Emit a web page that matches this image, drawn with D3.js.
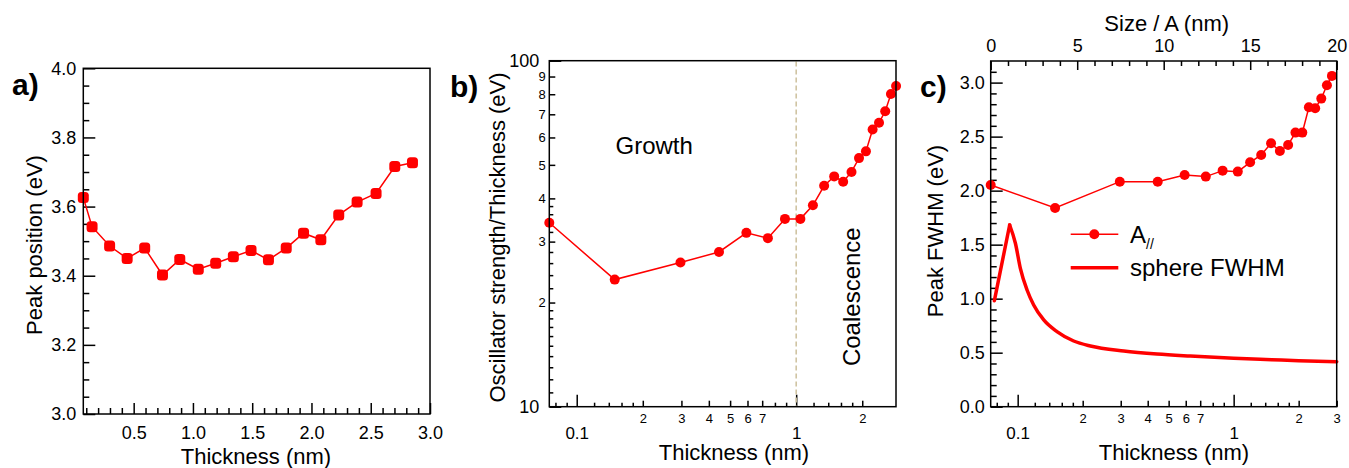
<!DOCTYPE html>
<html>
<head>
<meta charset="utf-8">
<script src="https://cdn.jsdelivr.net/npm/d3@7"></script>
<style>
  body { margin: 0; background: #fff; }
  svg text { font-family: "Liberation Sans", Arial, Helvetica, sans-serif; fill: #000; }
</style>
</head>
<body>
<script>
// ---- data ----
var thickness   = [0.075,0.149,0.297,0.445,0.593,0.743,0.889,1.045,1.192,1.341,1.49,1.637,1.787,1.933,2.079,2.23,2.385,2.545,2.703,2.852];
var peakPos     = [3.626,3.542,3.486,3.450,3.480,3.402,3.447,3.419,3.436,3.455,3.473,3.446,3.480,3.523,3.504,3.576,3.613,3.638,3.716,3.727];
var oscStrength = [34.0,23.3,26.1,28.0,31.8,30.7,34.9,34.9,38.2,43.5,46.3,44.7,47.7,52.3,54.7,63.3,66.2,71.4,80.1,84.5];
var fwhmA       = [2.052,1.840,2.083,2.083,2.145,2.130,2.185,2.176,2.262,2.330,2.438,2.367,2.423,2.537,2.537,2.772,2.762,2.852,2.975,3.062];
var sphereT     = [0.078,0.0918,0.0976,0.1029,0.1105,0.1186,0.132,0.152,0.1817,0.217,0.31,0.442,0.63,1.0,1.5,2.0,3.0];
var sphereW     = [0.981,1.682,1.513,1.281,1.080,0.942,0.803,0.695,0.608,0.562,0.516,0.488,0.469,0.448,0.435,0.426,0.417];

// tick values
var aXMajor = [0.5,1.0,1.5,2.0,2.5,3.0];
var aYMajor = [3.0,3.2,3.4,3.6,3.8,4.0];
var logXMajor = [0.1, 1];
var logXMid   = [0.2,0.3,0.4,0.5,0.6,0.7,2];
var logXMinor = [0.08,0.09,0.12,0.14,0.16,0.18,0.8,0.9,1.2,1.4,1.6,1.8];
var bYMajor = [10, 100];
var bYMid   = [20,30,40,50,60,70,80,90];
var bYMinor = [11,12,13,14,15,16,17,18,19,22,24,26,28,32,34,36,38];
var cYMajor = [0,0.5,1.0,1.5,2.0,2.5,3.0];
var cTopMajor = [0,5,10,15,20];

var RED = "#ff0000";

var svg = d3.select("body").append("svg")
    .attr("width", 1349)
    .attr("height", 468);

function axis(g, gen, values, len, pad, fmt, fs) {
  var a = g.append("g").call(gen.tickValues(values).tickSizeInner(-len).tickSizeOuter(0)
      .tickPadding(pad).tickFormat(fmt || ""));
  a.select(".domain").remove();
  a.selectAll("line").attr("stroke", "#000").attr("stroke-width", 1.5);
  a.selectAll("text").style("font-size", (fs || 18) + "px");
  return a;
}

function frame(x0, y0, x1, y1) {
  svg.append("rect").attr("x", x0).attr("y", y0)
    .attr("width", x1 - x0).attr("height", y1 - y0)
    .attr("fill", "none").attr("stroke", "#000").attr("stroke-width", 1.5);
}

function digit(d) {
  return d < 1 ? String(Math.round(d * 10)) : String(Math.round(d));
}
function digitY(d) { return String(Math.round(d / 10)); }

// ================= panel a =================
var ax = d3.scaleLinear().domain([0.075, 3.0]).range([83.3, 430]);
var ay = d3.scaleLinear().domain([3.0, 4.0]).range([414, 68.3]);

var ga = svg.append("g");
axis(ga.append("g").attr("transform", "translate(0,414)"), d3.axisBottom(ax),
     d3.range(0.1, 3.0, 0.1).filter(function(v){ return Math.abs(v*2 - Math.round(v*2)) > 0.01; }), 6, 0);
axis(ga.append("g").attr("transform", "translate(0,414)"), d3.axisBottom(ax), aXMajor, 11, 12.5, d3.format(".1f"));
axis(ga.append("g").attr("transform", "translate(83.3,0)"), d3.axisLeft(ay),
     d3.range(3.05, 4.0, 0.05).filter(function(v){ return Math.abs(v*5 - Math.round(v*5)) > 0.01; }), 6, 0);
axis(ga.append("g").attr("transform", "translate(83.3,0)"), d3.axisLeft(ay), aYMajor, 12, 7, d3.format(".1f"));
frame(83.3, 68.3, 430, 414);

var lineA = d3.line().x(function(d, i){ return ax(thickness[i]); }).y(function(d){ return ay(d); });
ga.append("path").datum(peakPos).attr("d", lineA)
  .attr("fill", "none").attr("stroke", RED).attr("stroke-width", 1.5);
ga.selectAll("rect.m").data(peakPos).enter().append("rect").attr("class", "m")
  .attr("x", function(d, i){ return ax(thickness[i]) - 5.5; })
  .attr("y", function(d){ return ay(d) - 5.5; })
  .attr("width", 11).attr("height", 11).attr("rx", 3.5)
  .attr("fill", RED);

svg.append("text").attr("x", 12).attr("y", 95).style("font-size", "30px").style("font-weight", "bold").text("a)");
svg.append("text").attr("transform", "translate(41.5,245) rotate(-90)").attr("text-anchor", "middle")
  .style("font-size", "22px").text("Peak position (eV)");
svg.append("text").attr("x", 256).attr("y", 464).attr("text-anchor", "middle")
  .style("font-size", "22px").text("Thickness (nm)");

// ================= panel b =================
var bx = d3.scaleLog().domain([0.075, 2.85]).range([549.3, 896]);
var by = d3.scaleLog().domain([10, 100]).range([406.7, 60.7]);
var gb = svg.append("g");

axis(gb.append("g").attr("transform", "translate(0,406.7)"), d3.axisBottom(bx), logXMinor, 4, 0);
axis(gb.append("g").attr("transform", "translate(0,406.7)"), d3.axisBottom(bx), logXMid, 6, 6.6, digit, 13);
axis(gb.append("g").attr("transform", "translate(0,406.7)"), d3.axisBottom(bx), logXMajor, 12, 20, d3.format("~g"), 17);
axis(gb.append("g").attr("transform", "translate(549.3,0)"), d3.axisLeft(by), bYMinor, 4, 0);
axis(gb.append("g").attr("transform", "translate(549.3,0)"), d3.axisLeft(by), bYMid, 6, 3.5, digitY, 13);
axis(gb.append("g").attr("transform", "translate(549.3,0)"), d3.axisLeft(by), bYMajor, 12, 10, d3.format("d"), 18);
frame(549.3, 60.7, 896, 406.7);

gb.append("line").attr("x1", bx(1)).attr("x2", bx(1)).attr("y1", 61.5).attr("y2", 406)
  .attr("stroke", "#cdc09c").attr("stroke-width", 1.5).attr("stroke-dasharray", "5,3");

var lineB = d3.line().x(function(d, i){ return bx(thickness[i]); }).y(function(d){ return by(d); });
gb.append("path").datum(oscStrength).attr("d", lineB)
  .attr("fill", "none").attr("stroke", RED).attr("stroke-width", 1.5);
gb.selectAll("circle").data(oscStrength).enter().append("circle")
  .attr("cx", function(d, i){ return bx(thickness[i]); })
  .attr("cy", function(d){ return by(d); })
  .attr("r", 5).attr("fill", RED);

svg.append("text").attr("x", 450).attr("y", 97).style("font-size", "30px").style("font-weight", "bold").text("b)");
svg.append("text").attr("transform", "translate(505,237.5) rotate(-90)").attr("text-anchor", "middle")
  .style("font-size", "22px").text("Oscillator strength/Thickness (eV)");
svg.append("text").attr("x", 734).attr("y", 460).attr("text-anchor", "middle")
  .style("font-size", "22px").text("Thickness (nm)");
svg.append("text").attr("x", 615.5).attr("y", 154).style("font-size", "24px").text("Growth");
svg.append("text").attr("transform", "translate(860,296.7) rotate(-90)").attr("text-anchor", "middle")
  .style("font-size", "24px").text("Coalescence");

// ================= panel c =================
var cx = d3.scaleLog().domain([0.075, 3.0]).range([990.7, 1336.7]);
var cy = d3.scaleLinear().domain([0, 3.2]).range([406.7, 61]);
var cTop = d3.scaleLinear().domain([0, 20]).range([990.7, 1336.7]);
var gc = svg.append("g");

axis(gc.append("g").attr("transform", "translate(0,406.7)"), d3.axisBottom(cx), logXMinor, 4, 0);
axis(gc.append("g").attr("transform", "translate(0,406.7)"), d3.axisBottom(cx), logXMid.concat([3]), 6, 6.6, digit, 13);
axis(gc.append("g").attr("transform", "translate(0,406.7)"), d3.axisBottom(cx), logXMajor, 12, 20, d3.format("~g"), 17);
axis(gc.append("g").attr("transform", "translate(990.7,0)"), d3.axisLeft(cy),
     d3.range(0.1, 3.2, 0.1).filter(function(v){ return Math.abs(v*2 - Math.round(v*2)) > 0.01; }), 6, 0);
axis(gc.append("g").attr("transform", "translate(990.7,0)"), d3.axisLeft(cy), cYMajor, 12, 6, d3.format(".1f"));
axis(gc.append("g").attr("transform", "translate(0,61)"), d3.axisTop(cTop),
     d3.range(1, 20, 1).filter(function(v){ return v % 5 !== 0; }), 5, 0);
axis(gc.append("g").attr("transform", "translate(0,61)"), d3.axisTop(cTop), cTopMajor, 9, 9.5, d3.format("d"));
frame(990.7, 61, 1336.7, 406.7);

var lineS = d3.line().curve(d3.curveMonotoneX)
  .x(function(d, i){ return cx(sphereT[i]); }).y(function(d){ return cy(d); });
// rising edge is straight, decay is smooth
gc.append("path").datum(sphereW.slice(0, 2)).attr("d", d3.line()
    .x(function(d, i){ return cx(sphereT[i]); }).y(function(d){ return cy(d); }))
  .attr("fill", "none").attr("stroke", RED).attr("stroke-width", 3.5).attr("stroke-linecap", "round");
gc.append("path").datum(sphereW.slice(1)).attr("d", d3.line().curve(d3.curveMonotoneX)
    .x(function(d, i){ return cx(sphereT[i + 1]); }).y(function(d){ return cy(d); }))
  .attr("fill", "none").attr("stroke", RED).attr("stroke-width", 3.5).attr("stroke-linecap", "round");

var lineC = d3.line().x(function(d, i){ return cx(thickness[i]); }).y(function(d){ return cy(d); });
gc.append("path").datum(fwhmA).attr("d", lineC)
  .attr("fill", "none").attr("stroke", RED).attr("stroke-width", 1.5);
gc.selectAll("circle").data(fwhmA).enter().append("circle")
  .attr("cx", function(d, i){ return cx(thickness[i]); })
  .attr("cy", function(d){ return cy(d); })
  .attr("r", 5).attr("fill", RED);

// legend
var leg = gc.append("g");
leg.append("line").attr("x1", 1070.7).attr("x2", 1118.3).attr("y1", 234.3).attr("y2", 234.3)
  .attr("stroke", RED).attr("stroke-width", 1.5);
leg.append("circle").attr("cx", 1094.3).attr("cy", 234.3).attr("r", 5).attr("fill", RED);
var tA = leg.append("text").attr("x", 1130).attr("y", 242.5).style("font-size", "24px");
tA.append("tspan").text("A");
tA.append("tspan").attr("dy", 6).style("font-size", "14px").text("//");
leg.append("line").attr("x1", 1070.7).attr("x2", 1118.3).attr("y1", 267.7).attr("y2", 267.7)
  .attr("stroke", RED).attr("stroke-width", 3.5);
leg.append("text").attr("x", 1130).attr("y", 275.5).style("font-size", "24px").text("sphere FWHM");

svg.append("text").attr("x", 920).attr("y", 97).style("font-size", "30px").style("font-weight", "bold").text("c)");
svg.append("text").attr("transform", "translate(943,231) rotate(-90)").attr("text-anchor", "middle")
  .style("font-size", "22px").text("Peak FWHM (eV)");
svg.append("text").attr("x", 1174).attr("y", 460).attr("text-anchor", "middle")
  .style("font-size", "22px").text("Thickness (nm)");
svg.append("text").attr("x", 1166.7).attr("y", 30.5).attr("text-anchor", "middle")
  .style("font-size", "22px").text("Size / A (nm)");
</script>
</body>
</html>
